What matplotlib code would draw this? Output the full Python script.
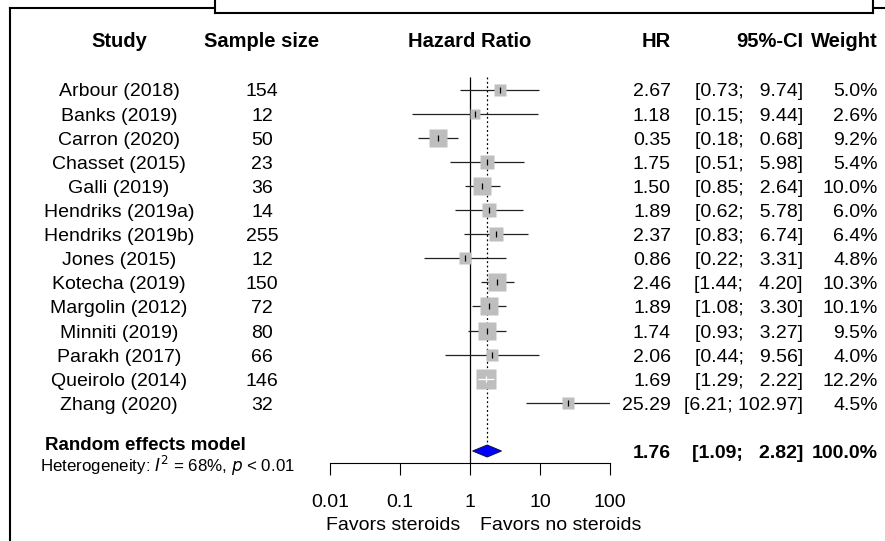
import numpy as np
import matplotlib
matplotlib.use("Agg")
import matplotlib.pyplot as plt
from matplotlib.lines import Line2D
from matplotlib.patches import Polygon

plt.rcParams['font.family'] = ['Liberation Sans', 'DejaVu Sans']

# ---------------- data ----------------
studies = ["Arbour (2018)", "Banks (2019)", "Carron (2020)", "Chasset (2015)",
           "Galli (2019)", "Hendriks (2019a)", "Hendriks (2019b)", "Jones (2015)",
           "Kotecha (2019)", "Margolin (2012)", "Minniti (2019)", "Parakh (2017)",
           "Queirolo (2014)", "Zhang (2020)"]
sample_size = [154, 12, 50, 23, 36, 14, 255, 12, 150, 72, 80, 66, 146, 32]
hr = [2.67, 1.18, 0.35, 1.75, 1.50, 1.89, 2.37, 0.86, 2.46, 1.89, 1.74, 2.06, 1.69, 25.29]
ci_low = [0.73, 0.15, 0.18, 0.51, 0.85, 0.62, 0.83, 0.22, 1.44, 1.08, 0.93, 0.44, 1.29, 6.21]
ci_high = [9.74, 9.44, 0.68, 5.98, 2.64, 5.78, 6.74, 3.31, 4.20, 3.30, 3.27, 9.56, 2.22, 102.97]
weight = [5.0, 2.6, 9.2, 5.4, 10.0, 6.0, 6.4, 4.8, 10.3, 10.1, 9.5, 4.0, 12.2, 4.5]
re_hr, re_low, re_high, re_weight = 1.76, 1.09, 2.82, 100.0
het_i2, het_p = "68%", "0.01"
xticks = [0.01, 0.1, 1, 10, 100]
xtick_labels = ["0.01", "0.1", "1", "10", "100"]
label_left, label_right = "Favors steroids", "Favors no steroids"

# ---------------- layout ----------------
W, H = 885, 541
fig = plt.figure(figsize=(W / 100, H / 100), dpi=100)
fig.patch.set_facecolor("white")

row0, dy = 89.5, 24.1          # pixel y of first study row, row spacing
ax_top, ax_bot = 60, 463       # forest axes vertical extent (pixels)
ax_left, ax_right = 330, 610   # 0.01 .. 100

def rpx(r):
    return row0 + dy * r

ax = fig.add_axes([ax_left / W, 1 - ax_bot / H, (ax_right - ax_left) / W, (ax_bot - ax_top) / H])
ax.set_xscale("log")
ax.set_xlim(0.01, 100)
ax.set_ylim((ax_bot - row0) / dy, (ax_top - row0) / dy)
ax.patch.set_alpha(0)
for s in ["top", "left", "right"]:
    ax.spines[s].set_visible(False)
ax.spines["bottom"].set_linewidth(0.8)
ax.set_yticks([])
ax.set_xticks(xticks)
ax.set_xticklabels(xtick_labels)
ax.minorticks_off()
ax.tick_params(axis="x", direction="out", length=8.6, width=0.8, pad=13.5, labelsize=14, colors="black")

n = len(studies)
rows = np.arange(n)
re_row = n + 1
top_line = (77 - row0) / dy

# reference lines
ax.vlines(1, top_line, (ax_bot - row0) / dy, color="black", lw=0.9, zorder=1)
ax.vlines(re_hr, top_line, re_row - 0.26, color="black", lw=0.9, linestyles=(0, (1.5, 2.0)), zorder=1)

px2pt = 0.72
for i in range(n):
    side_px = 5.73 * np.sqrt(weight[i])
    inside = (np.log10(ci_high[i]) - np.log10(hr[i])) * 70 < side_px / 2 and \
             (np.log10(hr[i]) - np.log10(ci_low[i])) * 70 < side_px / 2
    lc = "white" if inside else "black"
    ax.plot([ci_low[i], ci_high[i]], [rows[i], rows[i]], color=lc if inside else "#222222",
            lw=0.9, zorder=2 if not inside else 4, solid_capstyle="butt")
    ax.plot([hr[i]], [rows[i]], marker="s", ms=side_px * px2pt, color="#BEBEBE",
            mec="none", zorder=3, ls="none")
    ax.plot([hr[i]], [rows[i]], marker="|", ms=5.0, mew=0.9, color=lc, zorder=5, ls="none")

# diamond
h = 6.0 / dy
diamond = Polygon([[re_low, re_row], [re_hr, re_row - h], [re_high, re_row], [re_hr, re_row + h]],
                  closed=True, facecolor="#0000FF", edgecolor="#101040", lw=0.7, zorder=4)
ax.add_patch(diamond)

# ---------------- text overlay ----------------
tax = fig.add_axes([0, 0, 1, 1])
tax.set_xlim(0, W)
tax.set_ylim(H, 0)
tax.axis("off")
tax.patch.set_alpha(0)

fs = 14
hfs = 14.5
x_study, x_n, x_hr, x_ci, x_w = 119, 262, 671, 803, 878
base = 7.0

hy = 47
tax.text(x_study, hy, "Study", ha="center", va="baseline", fontsize=hfs, fontweight="bold")
tax.text(x_n, hy, "Sample size", ha="center", va="baseline", fontsize=hfs, fontweight="bold")
tax.text(470, hy, "Hazard Ratio", ha="center", va="baseline", fontsize=hfs, fontweight="bold")
tax.text(x_hr, hy, "HR", ha="right", va="baseline", fontsize=hfs, fontweight="bold")
tax.text(x_ci, hy, "95%-CI", ha="right", va="baseline", fontsize=hfs, fontweight="bold")
tax.text(x_w, hy, "Weight", ha="right", va="baseline", fontsize=hfs, fontweight="bold")

lw_ = max(len(f"{v:.2f}") for v in ci_low + [re_low])
hw_ = max(len(f"{v:.2f}") for v in ci_high + [re_high])

def ci_str(lo, hi):
    return "[" + f"{lo:.2f}".rjust(lw_) + "; " + f"{hi:.2f}".rjust(hw_) + "]"

for i in range(n):
    y = rpx(rows[i]) + base
    tax.text(x_study, y, studies[i], ha="center", va="baseline", fontsize=fs)
    tax.text(x_n, y, str(sample_size[i]), ha="center", va="baseline", fontsize=fs)
    tax.text(x_hr, y, f"{hr[i]:.2f}", ha="right", va="baseline", fontsize=fs)
    tax.text(x_ci, y, ci_str(ci_low[i], ci_high[i]), ha="right", va="baseline", fontsize=fs)
    tax.text(x_w, y, f"{weight[i]:.1f}%", ha="right", va="baseline", fontsize=fs)

y = rpx(re_row) + base
tax.text(45, 450.5, "Random effects model", ha="left", va="baseline", fontsize=13.5, fontweight="bold")
tax.text(x_hr, y, f"{re_hr:.2f}", ha="right", va="baseline", fontsize=fs, fontweight="bold")
tax.text(x_ci, y, ci_str(re_low, re_high), ha="right", va="baseline", fontsize=fs, fontweight="bold")
tax.text(x_w, y, f"{re_weight:.1f}%", ha="right", va="baseline", fontsize=fs, fontweight="bold")
tax.text(40, 471.5, "Heterogeneity: $\\mathit{I}^2$ = " + het_i2 + ", $\\mathit{p}$ < " + het_p,
         ha="left", va="baseline", fontsize=12.2)

tax.text(460, 530.5, label_left, ha="right", va="baseline", fontsize=fs)
tax.text(480, 530.5, label_right, ha="left", va="baseline", fontsize=fs)

# ---------------- frame decorations ----------------
frame = [((10, 10), (8, H + 2)), ((10, 215), (8, 8)), ((215, 215), (-2, 12.5)),
         ((215, 873), (12.5, 12.5)), ((873, 873), (-2, 12.5)), ((873, W + 2), (8, 8))]
for xs, ys in frame:
    tax.add_line(Line2D(xs, ys, color="black", lw=1.5, solid_capstyle="projecting", clip_on=False))

fig.savefig("out.png", dpi=100)
